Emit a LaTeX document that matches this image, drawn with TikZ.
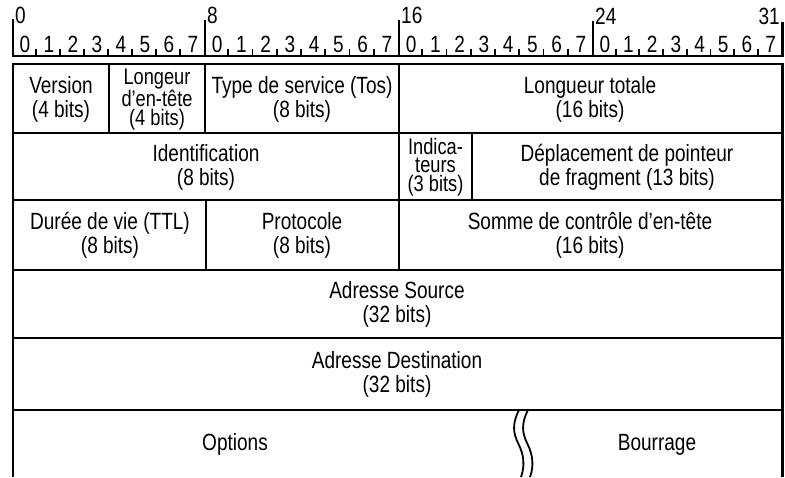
\documentclass[tikz,border=0pt]{standalone}
\usepackage{fontspec}
\setmainfont{Liberation Sans}[FakeStretch=0.81]
\begin{document}
\begin{tikzpicture}[x=1pt,y=-1pt,
  rul/.style={line width=2.4pt},
  tickmark/.style={line width=1.8pt},
  hline/.style={line width=2.8pt},
  vline/.style={line width=2.2pt},
  wave/.style={line width=1.8pt},
  lbl/.style={inner sep=0pt, align=center, font=\fontsize{23.5}{24}\selectfont},
  lblt/.style={inner sep=0pt, align=center, font=\fontsize{22.5}{18.3}\selectfont},
  dig/.style={inner sep=0pt, anchor=base, font=\fontsize{23.5}{24}\selectfont},
]
\useasboundingbox (0,0) rectangle (785,477);
% ruler
\draw[rul] (13,19) -- (13,56) -- (782.5,56) -- (782.5,22);
\draw[rul] (205,20) -- (205,56);
\draw[rul] (399,20) -- (399,56);
\draw[rul] (593,21) -- (593,56);
\foreach \a/\b/\i in {13/205/0, 205/399/1, 399/593/2, 593/782.5/3} {
  \foreach \k in {1,...,7} { \draw[tickmark] ({\a+\k*(\b-\a)/8-1},48.5) -- ++(0,7.5); }
  \foreach \k in {0,...,7} { \node[dig] (d\i\k) at ({\a+(\k+0.5)*(\b-\a)/8},52.5) {\k}; }
}
\node[dig, anchor=base west] (t0) at (15,23) {0};
\node[dig, anchor=base west] (t8) at (207,23) {8};
\node[dig, anchor=base west] (t16) at (401,23) {16};
\node[dig, anchor=base west] (t24) at (595,24) {24};
\node[dig, anchor=base east] (t31) at (780,24) {31};
% table frame
\draw[hline] (13,477) -- (13,64) -- (782.5,64) -- (782.5,477);
\foreach \y in {133,200,270,338,410} { \draw[hline] (13,\y) -- (782.5,\y); }
\draw[vline] (109,64) -- (109,133);
\draw[vline] (205,64) -- (205,133);
\draw[vline] (399,64) -- (399,200);
\draw[vline] (472,133) -- (472,200);
\draw[vline] (206,200) -- (206,270);
\draw[vline] (399,200) -- (399,270);
% wavy break
\draw[wave] (519,410) .. controls (512,424) and (513,433) .. (518.5,444) .. controls (524,455) and (525,466) .. (521,477);
\draw[wave] (528,410) .. controls (521,424) and (522,433) .. (527.5,444) .. controls (533,455) and (534,466) .. (530,477);
% labels
\node[lbl] (version) at (61,99) {Version\\(4 bits)};
\node[lblt] (ihl) at (157,99.5) {Longeur\\d’en-tête\\(4 bits)};
\node[lbl] (tos) at (302,99) {Type de service (Tos)\\(8 bits)};
\node[lbl] (totlen) at (590,99) {Longueur totale\\(16 bits)};
\node[lbl] (ident) at (206,167) {Identification\\(8 bits)};
\node[lblt] (flags) at (435.5,167) {Indica-\\teurs\\(3 bits)};
\node[lbl] (frag) at (627,167) {Déplacement de pointeur\\de fragment (13 bits)};
\node[lbl] (ttl) at (110,235.5) {Durée de vie (TTL)\\(8 bits)};
\node[lbl] (proto) at (302,235.5) {Protocole\\(8 bits)};
\node[lbl] (chk) at (590,235.5) {Somme de contrôle d’en-tête\\(16 bits)};
\node[lbl] (src) at (397,304.5) {Adresse Source\\(32 bits)};
\node[lbl] (dst) at (397,374.5) {Adresse Destination\\(32 bits)};
\node[dig] (opt) at (235,450.5) {Options};
\node[dig] (pad) at (657,450.5) {Bourrage};
\end{tikzpicture}
\end{document}
